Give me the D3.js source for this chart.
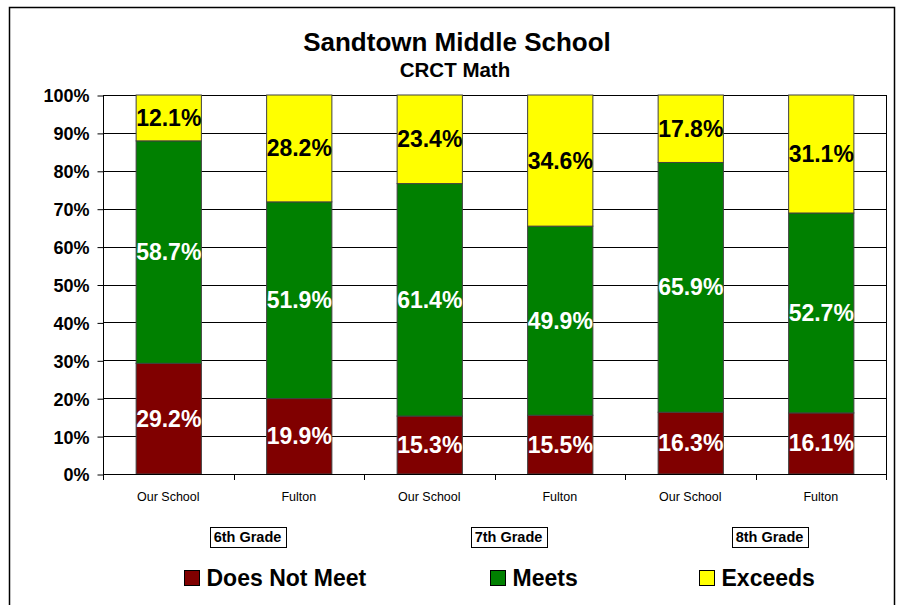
<!DOCTYPE html>
<html>
<head>
<meta charset="utf-8">
<script src="https://cdn.jsdelivr.net/npm/d3@7/dist/d3.min.js"></script>
<style>
  html, body { margin: 0; padding: 0; background: #fff; }
  svg { display: block; }
  text { font-family: "Liberation Sans", Arial, sans-serif; }
</style>
</head>
<body>
<svg id="chart" width="898" height="605"></svg>
<script>
// ---- data ----
const categories = ["Our School", "Fulton", "Our School", "Fulton", "Our School", "Fulton"];
const grades = ["6th Grade", "7th Grade", "8th Grade"];
const seriesNames = ["Does Not Meet", "Meets", "Exceeds"];
const doesNotMeet = [29.2, 19.9, 15.3, 15.5, 16.3, 16.1];
const meets = [58.7, 51.9, 61.4, 49.9, 65.9, 52.7];
const exceeds = [12.1, 28.2, 23.4, 34.6, 17.8, 31.1];
const yTicks = [0, 0.1, 0.2, 0.3, 0.4, 0.5, 0.6, 0.7, 0.8, 0.9, 1.0];

const colors = ["#800000", "#008000", "#FFFF00"];
const labelColors = ["#ffffff", "#ffffff", "#000000"];

const svg = d3.select("#chart");
const plot = { left: 103, right: 886, top: 95, bottom: 474 };

// outer border
svg.append("rect").attr("x", 9.5).attr("y", 7.5).attr("width", 885).attr("height", 610)
  .attr("fill", "#fff").attr("stroke", "#000").attr("stroke-width", 1.5);

// title
svg.append("text").attr("x", 457).attr("y", 51).attr("text-anchor", "middle")
  .attr("font-size", 26).attr("font-weight", "bold").text("Sandtown Middle School");
svg.append("text").attr("x", 455).attr("y", 77).attr("text-anchor", "middle")
  .attr("font-size", 20.5).attr("font-weight", "bold").text("CRCT Math");

// data table
const table = categories.map((c, i) => ({
  idx: i, cat: c,
  "Does Not Meet": doesNotMeet[i], "Meets": meets[i], "Exceeds": exceeds[i]
}));
const stack = d3.stack().keys(seriesNames).offset(d3.stackOffsetExpand);
const stacked = stack(table);

const x = d3.scaleBand().domain(d3.range(categories.length))
  .range([plot.left, plot.right]).paddingInner(0.5).paddingOuter(0.25);
const xOuter = d3.scaleBand().domain(d3.range(categories.length))
  .range([plot.left, plot.right]).padding(0);
const y = d3.scaleLinear().domain([0, 1]).range([plot.bottom, plot.top]);

// gridlines
svg.append("g").selectAll("line").data(yTicks.filter(d => d > 0)).join("line")
  .attr("x1", plot.left).attr("x2", plot.right)
  .attr("y1", d => Math.round(y(d)) + 0.5).attr("y2", d => Math.round(y(d)) + 0.5)
  .attr("stroke", "#000").attr("stroke-width", 1);
// right border of plot
svg.append("line").attr("x1", plot.right + 0.5).attr("x2", plot.right + 0.5)
  .attr("y1", plot.top).attr("y2", plot.bottom).attr("stroke", "#000");

// bars
const layers = svg.append("g").selectAll("g").data(stacked).join("g")
  .attr("fill", (d, i) => colors[i]);
layers.selectAll("rect").data(d => d).join("rect")
  .attr("x", (d, i) => x(i) + 0.5)
  .attr("width", x.bandwidth())
  .attr("y", d => y(d[1]))
  .attr("height", d => y(d[0]) - y(d[1]))
  .attr("stroke", "#404040").attr("stroke-width", 1);

// value labels
const lab = svg.append("g");
const valueArrays = [doesNotMeet, meets, exceeds];
stacked.forEach((layer, si) => {
  lab.selectAll(null).data(layer).join("text")
    .attr("x", (d, i) => x(i) + x.bandwidth() / 2 + 0.5)
    .attr("y", d => (y(d[0]) + y(d[1])) / 2 + 8)
    .attr("text-anchor", "middle")
    .attr("font-size", 23).attr("font-weight", "bold")
    .attr("fill", labelColors[si])
    .text((d, i) => valueArrays[si][i].toFixed(1) + "%");
});

// y axis
const yAxis = d3.axisLeft(y).tickValues(yTicks).tickFormat(d3.format(".0%")).tickSize(6).tickPadding(8);
const gy = svg.append("g").attr("transform", `translate(${plot.left + 0.5},0.5)`).call(yAxis);
gy.select(".domain").attr("stroke", "#000").attr("d", `M0,${plot.top}V${plot.bottom}`);
gy.selectAll(".tick line").attr("stroke", "#000");
gy.selectAll(".tick text").attr("font-size", 18).attr("font-weight", "bold").attr("fill", "#000")
  .attr("font-family", "'Liberation Sans', Arial, sans-serif").attr("dy", "0.36em");

// x axis baseline
svg.append("line").attr("x1", plot.left).attr("x2", plot.right + 1)
  .attr("y1", plot.bottom + 0.5).attr("y2", plot.bottom + 0.5).attr("stroke", "#000");
// category ticks at boundaries
const bounds = d3.range(categories.length + 1).map(i => plot.left + i * xOuter.bandwidth());
svg.append("g").selectAll("line").data(bounds).join("line")
  .attr("x1", d => Math.round(d) + 0.5).attr("x2", d => Math.round(d) + 0.5)
  .attr("y1", plot.bottom).attr("y2", plot.bottom + 6).attr("stroke", "#000");
// category labels
svg.append("g").selectAll("text").data(categories).join("text")
  .attr("x", (d, i) => xOuter(i) + xOuter.bandwidth() / 2)
  .attr("y", 501).attr("text-anchor", "middle")
  .attr("font-size", 12.5).attr("fill", "#000").text(d => d);

// grade boxes
const gradeG = svg.append("g");
grades.forEach((g, gi) => {
  const cx = (xOuter(gi * 2) + xOuter(gi * 2 + 1) + xOuter.bandwidth()) / 2 + 14;
  const box = gradeG.append("rect");
  const txt = gradeG.append("text").attr("x", cx).attr("y", 542).attr("text-anchor", "middle")
    .attr("font-size", 14.5).attr("font-weight", "bold").text(g);
  const w = txt.node().getComputedTextLength() + 8;
  box.attr("x", Math.round(cx - w / 2) + 0.5).attr("y", 527.5)
    .attr("width", Math.round(w)).attr("height", 20)
    .attr("fill", "#fff").attr("stroke", "#000").attr("stroke-width", 1);
});

// legend
const legendX = [184, 490, 699];
seriesNames.forEach((s, i) => {
  svg.append("rect").attr("x", legendX[i] + 0.5).attr("y", 570.5).attr("width", 15).attr("height", 15)
    .attr("fill", colors[i]).attr("stroke", "#000").attr("stroke-width", 1);
  svg.append("text").attr("x", legendX[i] + 22.5).attr("y", 586)
    .attr("font-size", 23).attr("font-weight", "bold").text(s);
});
</script>
</body>
</html>
